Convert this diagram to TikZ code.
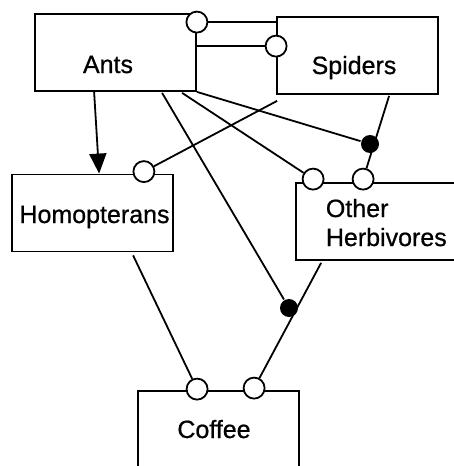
\documentclass[tikz,border=0pt]{standalone}
\usepackage{fontspec}
\newfontfamily\lblfont[FakeBold=0.7]{Liberation Sans}
\usetikzlibrary{arrows.meta,calc}
\begin{document}
\begin{tikzpicture}[x=1pt, y=-1pt, line width=1.8pt,
		box/.style={draw, minimum width=161pt, minimum height=77pt, inner sep=0pt},
		txt/.style={anchor=base, inner sep=0pt, font=\lblfont\fontsize{25}{29}\selectfont},
		open/.style={circle, draw, fill=white, minimum size=21pt, inner sep=0pt},
		shut/.style={circle, fill=black, minimum size=18pt, inner sep=0pt} ]
	\useasboundingbox (0,0) rectangle (454,466);
	% boxes
	\node[box] (ants) at (115.5,52.5) {};
	\node[box] (spiders) at (357.5,55.5) {};
	\node[box] (homop) at (92.5,213) {};
	\node[box] (herb) at (376.5,221.5) {};
	\node[box] (coffee) at (218.5,429.5) {};
	\node[txt] (ants-t) at (108,73) {Ants};
	\node[txt] (spiders-t) at (354,74) {Spiders};
	\node[txt] (homop-t) at (94.5,223) {Homopterans};
	\node[txt, anchor=base west] (other-t) at (325,217) {Other};
	\node[txt, anchor=base west] (herb-t) at (325,246) {Herbivores};
	\node[txt] (coffee-t) at (214,438) {Coffee};
	% circles and dots
	\node[open] (c1) at ($(ants.north east)+(0,9)$) {};
	\node[open] (c2) at ($(spiders.north west)+(0,30)$) {};
	\node[open] (c3) at ($(homop.north east)+(-30,-2)$) {};
	\node[open] (c4) at ($(herb.north west)+(18,-3)$) {};
	\node[open] (c5) at ($(herb.north west)+(68,-3)$) {};
	\node[open] (c6) at ($(coffee.north west)+(60,-1)$) {};
	\node[open] (c7) at ($(coffee.north west)+(117,-2)$) {};
	\node[shut] (d1) at (370,144) {};
	\node[shut] (d2) at (289,308) {};
	% links
	\draw (c1) -- (c1 -| spiders.west);
	\draw (c2 -| ants.east) -- (c2);
	\draw[-{Triangle[length=20pt,width=17pt]}] ($(ants.south west)+(60,0)$) -- ($(homop.north west)+(88,0)$);
	\draw ($(spiders.south west)+(1,6)$) -- (c3);
	\draw ($(ants.south west)+(148,1)$) -- (c4);
	\draw (ants.south east) -- (d1);
	\draw ($(ants.south west)+(128,1)$) -- (d2);
	\draw ($(spiders.south west)+(113,1)$) -- (c5);
	\draw ($(homop.south west)+(122,3)$) -- (c6);
	\draw ($(herb.south west)+(26,2)$) -- (c7);
\end{tikzpicture}
\end{document}
